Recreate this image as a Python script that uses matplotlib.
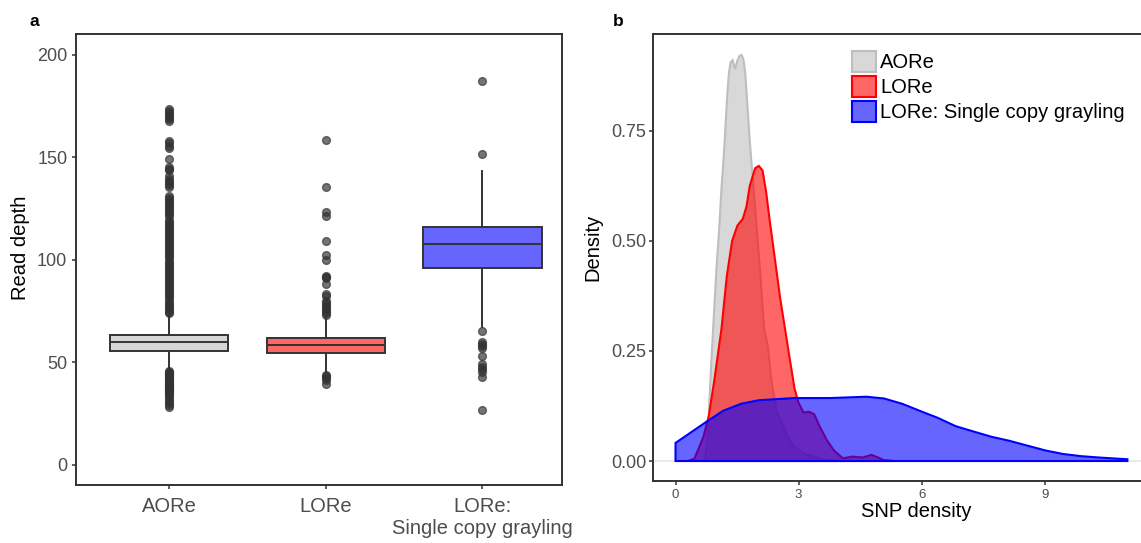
import numpy as np
import matplotlib.pyplot as plt
from matplotlib.colors import to_rgba
from matplotlib.patches import Patch

plt.rcParams['font.family'] = ['Liberation Sans', 'DejaVu Sans']

# ---- panel a: read depth per group ----
groups = ['AORe', 'LORe', 'LORe:\nSingle copy grayling']
box_fill = ['#D6D6D6', '#FF6666', '#6666FF']
q1 = [55.5, 54.2, 95.7]
med = [59.6, 58.2, 107.4]
q3 = [63.0, 61.8, 115.7]
whislo = [46.0, 45.0, 67.2]
whishi = [72.8, 72.0, 143.2]

aore_out = [173.5, 172.5, 171.5, 170.5, 169.5, 168.5, 167.5,
            158.0, 157.0, 155.5, 154.5, 149.0, 145.0, 144.0, 143.5,
            140.5, 139.5, 138.5, 137.5, 136.5, 135.5,
            131.0, 130.0, 129.0, 128.0, 127.0, 126.0, 125.0, 124.0, 123.0, 122.0, 121.0,
            119.5, 118.5, 117.5, 116.5, 115.5, 114.5, 113.5, 112.5, 111.5, 110.5,
            109.5, 108.5, 107.5, 106.5, 105.5, 104.5, 103.5, 102.5, 101.5, 100.5,
            99.5, 98.5, 97.5, 96.5, 95.5, 94.5, 93.5, 92.5, 91.5, 90.5,
            89.5, 88.5, 87.5, 86.5, 85.5, 84.5, 83.5, 82.5, 81.5, 80.5,
            79.5, 78.5, 77.5, 76.5, 75.5, 74.5, 73.8,
            45.5, 45.0, 44.5, 44.0, 43.5, 43.0, 42.5, 42.0, 41.5, 41.0, 40.5, 40.0,
            39.5, 39.0, 38.5, 38.0, 37.5, 37.0, 36.5, 36.0, 35.5, 35.0,
            34.0, 33.0, 32.0, 31.0, 30.0, 29.0, 28.0]
lore_out = [158.5, 135.5, 123.0, 121.0, 109.0, 102.0, 100.0, 92.0, 91.5, 91.0,
            88.0, 83.0, 82.0, 80.0, 79.0, 78.0, 77.0, 76.0, 75.0, 74.0, 73.0,
            43.5, 43.0, 42.0, 41.0, 39.5]
single_out = [187.0, 151.5, 65.2, 59.9, 58.7, 57.8, 56.6, 53.0, 49.0, 47.6,
              46.4, 45.0, 42.5, 26.5]
outliers = [aore_out, lore_out, single_out]

# ---- panel b: SNP density curves ----
aore_x = [0.70, 0.77, 0.81, 0.87, 0.94, 1.00, 1.07, 1.12, 1.16, 1.20, 1.26, 1.30,
          1.34, 1.39, 1.45, 1.51, 1.56, 1.61, 1.66, 1.70, 1.75, 1.80, 1.84, 1.94,
          2.07, 2.16, 2.25, 2.34, 2.47, 2.60, 2.73, 2.90, 3.16, 3.60, 3.95]
aore_y = [0.0, 0.04, 0.10, 0.22, 0.34, 0.44, 0.535, 0.62, 0.67, 0.73, 0.83, 0.88,
          0.905, 0.91, 0.89, 0.91, 0.92, 0.922, 0.91, 0.88, 0.81, 0.74, 0.69, 0.575,
          0.42, 0.30, 0.26, 0.18, 0.11, 0.087, 0.055, 0.031, 0.016, 0.004, 0.0]
lore_x = [0.29, 0.46, 0.68, 0.81, 0.94, 1.12, 1.25, 1.38, 1.51, 1.64, 1.73, 1.81,
          1.94, 2.03, 2.12, 2.21, 2.29, 2.42, 2.55, 2.77, 2.90, 2.99, 3.12, 3.25,
          3.38, 3.51, 3.69, 3.86, 4.08, 4.30, 4.56, 4.78, 4.91, 5.08, 5.34]
lore_y = [0.0, 0.005, 0.055, 0.102, 0.18, 0.30, 0.42, 0.50, 0.535, 0.55, 0.578, 0.625,
          0.665, 0.670, 0.66, 0.61, 0.55, 0.46, 0.37, 0.24, 0.165, 0.134, 0.110, 0.112,
          0.106, 0.079, 0.047, 0.024, 0.006, 0.010, 0.008, 0.014, 0.009, 0.002, 0.0]
single_x = [0.0, 0.72, 1.16, 1.60, 2.03, 2.90, 3.78, 4.65, 5.08, 5.52, 5.95, 6.39,
            6.83, 7.26, 7.70, 8.13, 8.57, 9.01, 9.44, 9.88, 10.31, 11.01]
single_y = [0.041, 0.087, 0.114, 0.130, 0.138, 0.143, 0.143, 0.146, 0.142, 0.130, 0.114, 0.098,
            0.079, 0.067, 0.055, 0.046, 0.035, 0.024, 0.016, 0.011, 0.008, 0.004]
dens_labels = ['AORe', 'LORe', 'LORe: Single copy grayling']
dens_colors = ['#BEBEBE', '#FF0000', '#0000FF']
dens_data = [(aore_x, aore_y), (lore_x, lore_y), (single_x, single_y)]

W, H = 1141, 543
fig = plt.figure(figsize=(W / 100, H / 100), dpi=100)


def add_px_axes(left, top, right, bottom):
    return fig.add_axes([left / W, 1 - bottom / H, (right - left) / W, (bottom - top) / H])


dark = '#333333'
tick_grey = '#4D4D4D'

# panel a
ax1 = add_px_axes(75.7, 34, 562.3, 485)
stats = []
for i in range(3):
    stats.append(dict(q1=q1[i], med=med[i], q3=q3[i], whislo=whislo[i],
                      whishi=whishi[i], fliers=outliers[i], label=groups[i]))
bp = ax1.bxp(stats, positions=[1, 2, 3], widths=0.755, patch_artist=True, showcaps=False,
             boxprops=dict(edgecolor=dark, linewidth=1.4),
             medianprops=dict(color=dark, linewidth=1.4),
             whiskerprops=dict(color=dark, linewidth=1.4),
             flierprops=dict(marker='o', markersize=5.6, markerfacecolor=dark,
                             markeredgecolor=dark, alpha=0.68, linestyle='none'))
for patch, c in zip(bp['boxes'], box_fill):
    patch.set_facecolor(c)
ax1.set_xlim(0.404, 3.51)
ax1.set_ylim(-10, 210)
ax1.set_yticks([0, 50, 100, 150, 200])
ax1.set_xticks([1, 2, 3], groups)
ax1.set_ylabel('Read depth', fontsize=14.5)
ax1.yaxis.set_label_coords(-0.093, 0.5255)

# panel b
ax2 = add_px_axes(653.3, 34, 1178.7, 480.7)
ax2.axhline(0, color='#EBEBEB', linewidth=1.5, zorder=0)
for (xs, ys), c in zip(dens_data, dens_colors):
    px = np.r_[xs, xs[-1], xs[0]]
    py = np.r_[ys, 0, 0]
    ax2.fill(px, py, facecolor=to_rgba(c, 0.6), edgecolor=c, linewidth=1.5)
ax2.set_xlim(-0.541, 12.26)
ax2.set_ylim(-0.0447, 0.9696)
ax2.set_xticks([0, 3, 6, 9])
ax2.set_yticks([0, 0.25, 0.5, 0.75], ['0.00', '0.25', '0.50', '0.75'])
ax2.set_xlabel('SNP density', fontsize=14.5)
ax2.set_ylabel('Density', fontsize=14.5)
ax2.yaxis.set_label_coords(-0.097, 0.523)
ax2.xaxis.set_label_coords(0.5, -0.048)

handles = [Patch(facecolor=to_rgba(c, 0.6), edgecolor=c, linewidth=1.5) for c in dens_colors]
ax2.legend(handles, dens_labels, loc='upper left', bbox_to_anchor=(852 / W, 1 - 51 / H),
           bbox_transform=fig.transFigure, frameon=False, fontsize=14.5, borderpad=0,
           handlelength=1.2, handleheight=1.2, handletextpad=0.2, labelspacing=0.2,
           borderaxespad=0)

for ax in (ax1, ax2):
    for s in ax.spines.values():
        s.set_color(dark)
        s.set_linewidth(1.4)
    ax.tick_params(length=3, width=1.1, color=dark, labelcolor=tick_grey)
ax1.tick_params(axis='y', labelsize=13, pad=3)
ax1.tick_params(axis='x', labelsize=14.5, pad=6)
ax2.tick_params(axis='y', labelsize=13, pad=2)
ax2.tick_params(axis='x', labelsize=9.5, pad=3)

fig.text(29 / W, 1 - 26 / H, 'a', fontsize=12.5, fontweight='bold', va='baseline')
fig.text(613 / W, 1 - 26.5 / H, 'b', fontsize=12.5, fontweight='bold', va='baseline')

fig.savefig('out.png', dpi=100)
